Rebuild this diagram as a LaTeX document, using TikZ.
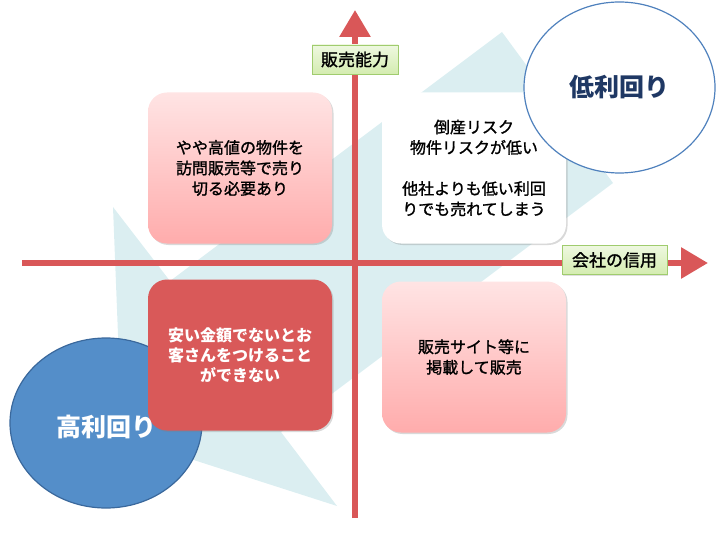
\documentclass[tikz,border=0pt]{standalone}
\usepackage{fontspec}
\setmainfont{Noto Sans CJK JP}
\newfontfamily\jpmed{Noto Sans CJK JP}[FakeBold=1.3]
\usetikzlibrary{arrows.meta,shadows,shapes.geometric}
\definecolor{bgblue}{RGB}{219,238,241}
\definecolor{axisred}{RGB}{217,87,88}
\definecolor{pinktop}{RGB}{255,228,228}
\definecolor{pinkbot}{RGB}{255,172,172}
\definecolor{boxred}{RGB}{217,89,89}
\definecolor{highblue}{RGB}{84,142,201}
\definecolor{highedge}{RGB}{58,104,156}
\definecolor{lowedge}{RGB}{79,129,189}
\definecolor{lowtext}{RGB}{31,56,100}
\definecolor{labtop}{RGB}{238,248,224}
\definecolor{labbot}{RGB}{212,236,176}
\definecolor{labedge}{RGB}{160,204,110}
\tikzset{
  axis/.style={draw=axisred, line width=6pt, -{Triangle[length=27pt,width=30pt]}},
  quad/.style={rounded corners=19pt, minimum width=184pt, minimum height=151pt, align=center,
    font=\jpmed\fontsize{16}{20.5}\selectfont,
    drop shadow={opacity=0.3, shadow xshift=1.5pt, shadow yshift=-1.5pt}},
  pinkquad/.style={quad, top color=pinktop, bottom color=pinkbot},
  axlabel/.style={draw=labedge, line width=0.8pt, top color=labtop, bottom color=labbot,
    minimum width=86pt, minimum height=29pt, inner sep=3pt, font=\jpmed\fontsize{17}{17}\selectfont,
    drop shadow={opacity=0.25, shadow xshift=1pt, shadow yshift=-1pt}},
  bubble/.style={ellipse, inner sep=0pt, font=\bfseries\fontsize{25}{25}\selectfont}
}
\begin{document}
\begin{tikzpicture}[x=1pt,y=-1pt]
  \useasboundingbox (0,0) rectangle (719,537);
  \fill[bgblue] (122,437) -- (113,207) -- (170,281) -- (502,32) -- (613,183) -- (281,432) -- (337,506) -- cycle;
  \coordinate (xl) at (22,263);
  \coordinate (xr) at (708,263);
  \coordinate (yb) at (355,518);
  \coordinate (yt) at (355,10);
  \draw[axis] (xl) -- (xr);
  \draw[axis] (yb) -- (yt);
  \node[bubble, fill=highblue, draw=highedge, line width=1.2pt, minimum width=192pt, minimum height=170pt] (high) at (106,423) {};
  \node[pinkquad] (q1) at (240,168) {やや高値の物件を\\訪問販売等で売り\\切る必要あり};
  \node[quad, fill=white] (q2) at (474,168) {倒産リスク\\物件リスクが低い\\[20.5pt]他社よりも低い利回\\りでも売れてしまう};
  \node[quad, fill=boxred, text=white, font=\fontsize{16}{20}\selectfont\bfseries] (q3) at (240,355) {安い金額でないとお\\客さんをつけること\\ができない};
  \node[pinkquad] (q4) at (474,357) {販売サイト等に\\掲載して販売};
  \node[bubble, fill=white, draw=lowedge, line width=1.2pt, minimum width=191pt, minimum height=171pt, text=lowtext] (low) at (619.5,87.5) {低利回り};
  \node[font=\bfseries\fontsize{25}{25}\selectfont, text=white] (hightext) at (106,427) {高利回り};
  \node[axlabel] (ylab) at (355,59.5) {販売能力};
  \node[axlabel, minimum width=105pt] (xlab) at (614.5,260) {会社の信用};
\end{tikzpicture}
\end{document}
